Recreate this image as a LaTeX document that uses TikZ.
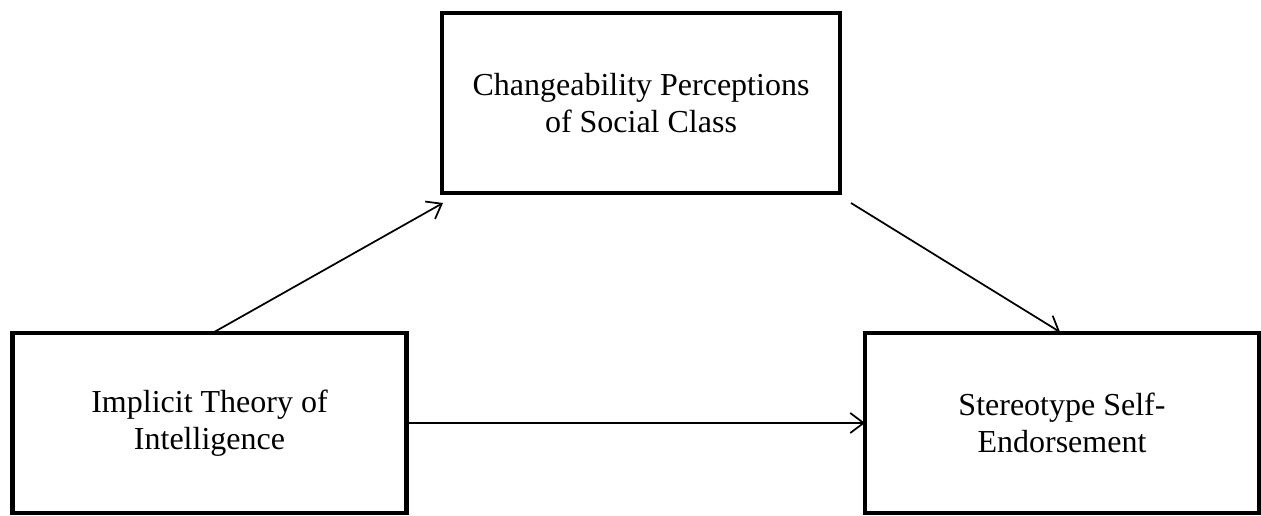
\documentclass[tikz,border=0pt]{standalone}
\usepackage{fontspec}
\setmainfont{Liberation Serif}
\usetikzlibrary{arrows.meta,calc}
\begin{document}
\begin{tikzpicture}[x=0.75pt,y=-0.75pt,
  box/.style={draw=black,line width=3.6pt,rectangle,inner sep=0pt,outer sep=0pt,
    minimum height=135pt,align=center,font=\fontsize{24}{27.75}\selectfont},
  link/.style={draw=black,line width=1.3pt,-{Straight Barb[length=10pt,width=15pt,line width=1.3pt]}}]
\useasboundingbox (0,0) rectangle (1261,516);
\node[box,minimum width=298.5pt] (top) at (641,103) {Changeability Perceptions\\of Social Class};
\node[box,minimum width=296pt] (left) at (209.5,423) {Implicit Theory of\\Intelligence};
\node[box,minimum width=295.5pt] (right) at (1062,423) {Stereotype Self-\\Endorsement};
\coordinate (a1) at ($(top.south west)+(1,10)$);
\coordinate (a2) at ($(top.south east)+(11,10)$);
\draw[link] ($(left.north)+(3,0)$) -- (a1);
\draw[link] (a2) -- ($(right.north)+(-2,-1)$);
\draw[link] (left.east) -- (right.west);
\end{tikzpicture}
\end{document}
